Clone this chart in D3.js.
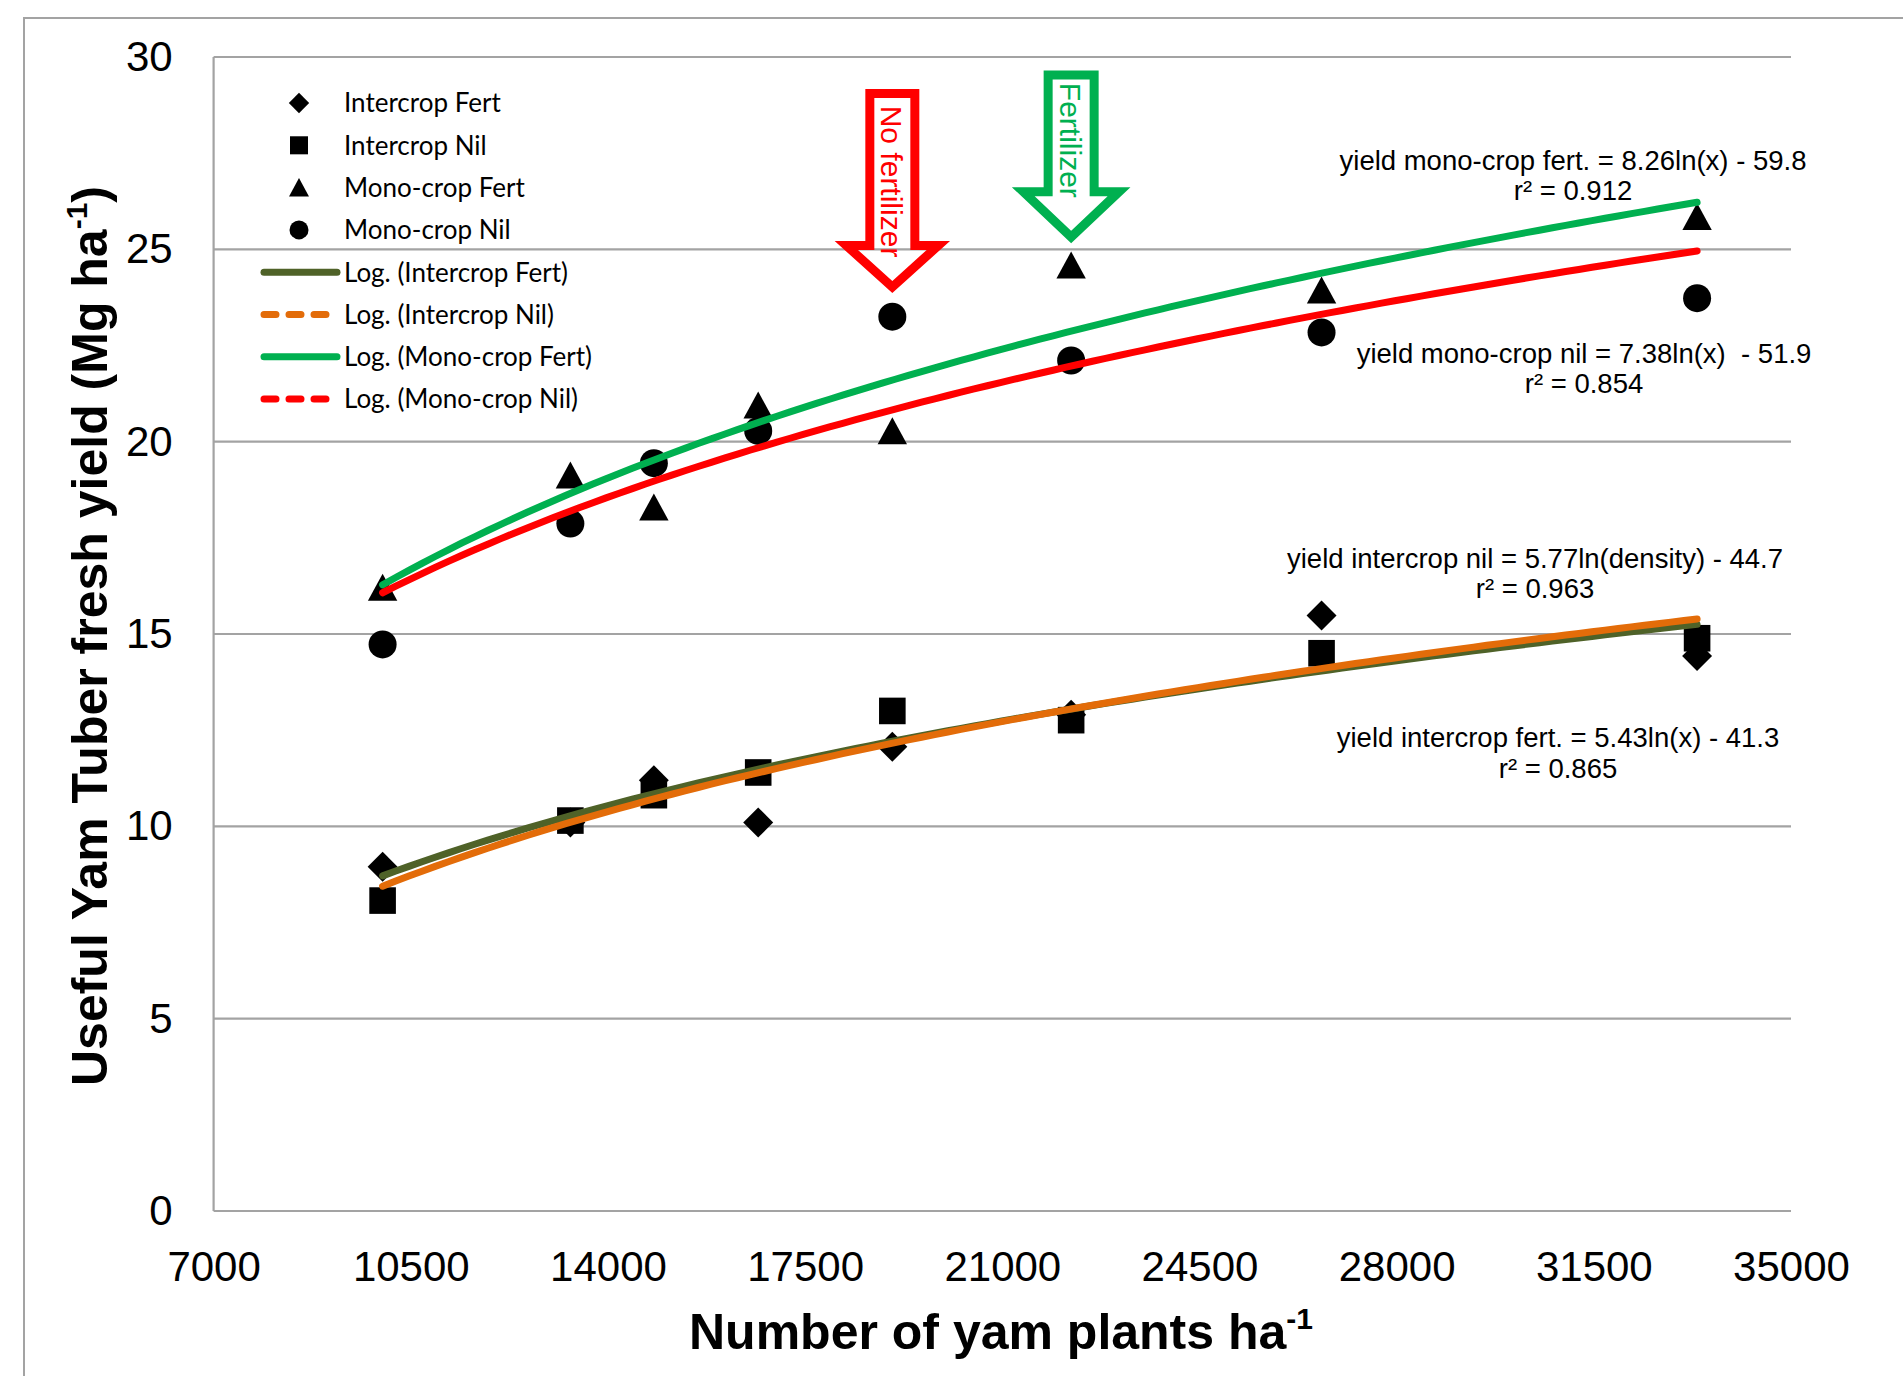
<!DOCTYPE html>
<html><head><meta charset="utf-8">
<script src="https://cdn.jsdelivr.net/npm/d3@7"></script>
<style>body{margin:0;background:#fff;overflow:hidden} svg{display:block}</style>
</head><body>
<svg id="chart" width="1903" height="1376"></svg>
<script>
// ---------------- DATA ----------------
const density       = [10000, 13333, 14815, 16667, 19048, 22222, 26667, 33333];
const intercropFert = [8.95, 10.1, 11.2, 10.1, 12.07, 12.9, 15.48, 14.43];
const intercropNil  = [8.07, 10.15, 10.81, 11.4, 13.0, 12.76, 14.5, 14.89];
const monoFert      = [16.2, 19.12, 18.29, 20.94, 20.27, 24.58, 23.93, 25.84];
const monoNil       = [14.73, 17.87, 19.44, 20.28, 23.25, 22.11, 22.84, 23.73];
const seriesNames   = ["Intercrop Fert", "Intercrop Nil", "Mono-crop Fert", "Mono-crop Nil"];
const trendNames    = ["Log. (Intercrop Fert)", "Log. (Intercrop Nil)", "Log. (Mono-crop Fert)", "Log. (Mono-crop Nil)"];
const trendSlope    = [5.43, 5.77, 8.26, 7.38];
const trendIntercept= [-41.3, -44.7, -59.8, -51.9];
const xTicks = [7000, 10500, 14000, 17500, 21000, 24500, 28000, 31500, 35000];
const yTicks = [0, 5, 10, 15, 20, 25, 30];
const equationLines = [
  ["yield mono-crop fert. = 8.26ln(x) - 59.8", "r\u00B2 = 0.912"],
  ["yield mono-crop nil = 7.38ln(x)  - 51.9", "r\u00B2 = 0.854"],
  ["yield intercrop nil = 5.77ln(density) - 44.7", "r\u00B2 = 0.963"],
  ["yield intercrop fert. = 5.43ln(x) - 41.3", "r\u00B2 = 0.865"]
];
const arrowLabels  = ["No fertilizer", "Fertilizer"];
const arrowDensity = [19048, 22222];
// arrow: [shaft top, shoulder, tip] values in yield units
const arrowTop      = [29.05, 29.53];
const arrowShoulder = [25.1, 26.5];
const arrowTip      = [24.02, 25.32];

// ---------------- STYLE / LAYOUT ----------------
const svg = d3.select("#chart");
const L = 213.6, R = 1791, T = 57, B = 1211;
const x = d3.scaleLinear().domain([7000, 35000]).range([L, R]);
const y = d3.scaleLinear().domain([0, 30]).range([B, T]);
const grey = "#a3a3a3";
const trendColors = ["#4f6228", "#e36c09", "#00b050", "#ff0000"];
const symbols = ["diamond", "square", "triangle", "circle"];

function markerPath(type, s) {
  const h = s / 2;
  if (type === "diamond") { const d = h * 1.07; return `M0,${-d}L${d},0L0,${d}L${-d},0Z`; }
  if (type === "square") { const q = h * 0.95; return `M${-q},${-q}H${q}V${q}H${-q}Z`; }
  if (type === "triangle") { return `M0,${-h}L${h*1.05},${h*0.93}L${-h*1.05},${h*0.93}Z`; }
  return d3.arc()({innerRadius: 0, outerRadius: h, startAngle: 0, endAngle: 2 * Math.PI});
}

// outer chart border
svg.append("rect").attr("x", 24).attr("y", 18).attr("width", 2000).attr("height", 2000)
  .attr("fill", "none").attr("stroke", grey).attr("stroke-width", 2);

// gridlines
svg.append("g").selectAll("line").data(yTicks).join("line")
  .attr("x1", L).attr("x2", R).attr("y1", d => y(d)).attr("y2", d => y(d))
  .attr("stroke", grey).attr("stroke-width", 2.2);
svg.append("line").attr("x1", L).attr("x2", L).attr("y1", T).attr("y2", B)
  .attr("stroke", grey).attr("stroke-width", 2.2);

// axes labels
const yAxis = svg.append("g").attr("transform", `translate(${L},0)`)
  .call(d3.axisLeft(y).tickValues(yTicks).tickSize(0).tickPadding(41).tickFormat(d3.format("d")));
yAxis.select(".domain").remove();
yAxis.selectAll("text").attr("font-family", "Liberation Sans, Arial, sans-serif").attr("font-size", 42).attr("fill", "#000");

const xAxis = svg.append("g").attr("transform", `translate(0,${B})`)
  .call(d3.axisBottom(x).tickValues(xTicks).tickSize(0).tickPadding(40).tickFormat(d3.format("d")));
xAxis.select(".domain").remove();
xAxis.selectAll("text").attr("font-family", "Liberation Sans, Arial, sans-serif").attr("font-size", 42).attr("fill", "#000");

// axis titles
const yt = svg.append("text").attr("transform", "translate(107,636) rotate(-90)")
  .attr("text-anchor", "middle").attr("font-family", "Liberation Sans, Arial, sans-serif")
  .attr("font-weight", "bold").attr("font-size", 50).attr("fill", "#000");
yt.append("tspan").text("Useful Yam Tuber fresh yield (Mg ha");
yt.append("tspan").attr("font-size", 30).attr("dy", -20).text("-1");
yt.append("tspan").attr("dy", 20).text(")");

const xt = svg.append("text").attr("x", 1001).attr("y", 1349)
  .attr("text-anchor", "middle").attr("font-family", "Liberation Sans, Arial, sans-serif")
  .attr("font-weight", "bold").attr("font-size", 50).attr("fill", "#000");
xt.append("tspan").text("Number of yam plants ha");
xt.append("tspan").attr("font-size", 30).attr("dy", -20).text("-1");

// markers
const allSeries = [intercropFert, intercropNil, monoFert, monoNil];
allSeries.forEach((vals, si) => {
  svg.append("g").selectAll("path").data(density.map((d, i) => [d, vals[i]])).join("path")
    .attr("transform", d => `translate(${x(d[0])},${y(d[1])})`)
    .attr("d", markerPath(symbols[si], 28)).attr("fill", "#000");
});

// trendlines
const line = d3.line().x(d => x(d[0])).y(d => y(d[1]));
const xs = d3.range(0, 101).map(i => d3.min(density) + (d3.max(density) - d3.min(density)) * i / 100);
trendSlope.forEach((a, i) => {
  svg.append("path").datum(xs.map(v => [v, a * Math.log(v) + trendIntercept[i]]))
    .attr("d", line).attr("fill", "none").attr("stroke", trendColors[i])
    .attr("stroke-width", 7).attr("stroke-linecap", "round");
});

// equations
const eqPos = [[1573, 170, 200], [1584, 363, 393], [1535, 568, 598], [1558, 747, 778]];
equationLines.forEach((ls, i) => {
  ls.forEach((t, j) => {
    svg.append("text").attr("x", eqPos[i][0]).attr("y", eqPos[i][1 + j])
      .attr("text-anchor", "middle").attr("font-family", "Liberation Sans, Arial, sans-serif")
      .attr("font-size", 27.5).attr("fill", "#000").style("white-space", "pre").text(t);
  });
});

// arrows
const arrowColors = ["#ff0000", "#00b050"];
const shaftHW = [22.5, 23], headHW = [46, 48];
arrowLabels.forEach((lab, i) => {
  const cx = x(arrowDensity[i]);
  const yt0 = y(arrowTop[i]), ys = y(arrowShoulder[i]), ytip = y(arrowTip[i]);
  const p = `M${cx - shaftHW[i]},${yt0}H${cx + shaftHW[i]}V${ys}H${cx + headHW[i]}L${cx},${ytip}L${cx - headHW[i]},${ys}H${cx - shaftHW[i]}Z`;
  svg.append("path").attr("d", p).attr("fill", "none").attr("stroke", arrowColors[i]).attr("stroke-width", 9);
  svg.append("text").attr("transform", `translate(${cx - 11},${(yt0 + ys) / 2 + (i === 0 ? 12 : 7)}) rotate(90)`)
    .attr("text-anchor", "middle").attr("font-family", "Liberation Sans, Arial, sans-serif")
    .attr("font-size", 30).attr("fill", arrowColors[i]).text(lab);
});

// legend
const legX = 299, legY0 = 103, legDy = 42.3;
seriesNames.forEach((n, i) => {
  const yy = legY0 + i * legDy;
  svg.append("path").attr("transform", `translate(${legX},${yy})`).attr("d", markerPath(symbols[i], 19)).attr("fill", "#000");
  svg.append("text").attr("x", 344).attr("y", yy).attr("dy", "0.36em")
    .attr("font-family", "Lato, sans-serif").attr("font-size", 26).attr("fill", "#000").text(n);
});
trendNames.forEach((n, i) => {
  const yy = legY0 + (i + 4) * legDy;
  svg.append("line").attr("x1", 264).attr("x2", i % 2 ? 330 : 337).attr("y1", yy).attr("y2", yy)
    .attr("stroke", trendColors[i]).attr("stroke-width", 7).attr("stroke-linecap", "round")
    .attr("stroke-dasharray", i % 2 ? "12,13" : null);
  svg.append("text").attr("x", 344).attr("y", yy).attr("dy", "0.36em")
    .attr("font-family", "Lato, sans-serif").attr("font-size", 26).attr("fill", "#000").text(n);
});
</script>
</body></html>
